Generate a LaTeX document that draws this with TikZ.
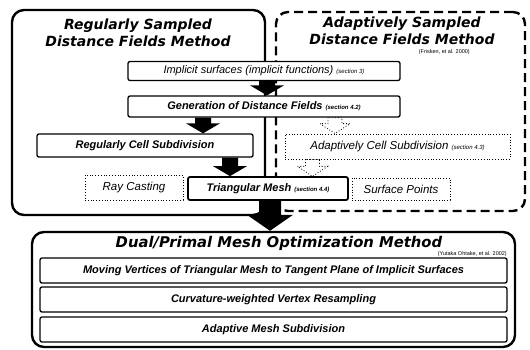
\documentclass[tikz,border=0pt]{standalone}
\usepackage{fontspec}
\setmainfont{Liberation Sans}
\newfontfamily\titlefont{DejaVu Sans}
\usetikzlibrary{calc}
\newcommand\blockarrow[6][]{%
  \path[#1] let \p1=(#2), \p2=(#3) in
   (\x1-#4,\y1) -- (\x1-#4,\y2+#6) -- (\x1-#5,\y2+#6) -- (\x1,\y2) --
   (\x1+#5,\y2+#6) -- (\x1+#4,\y2+#6) -- (\x1+#4,\y1) -- cycle;}
\tikzset{
  bigbox/.style={draw, line width=2.4pt, rounded corners=12pt, inner sep=0pt},
  dashbox/.style={draw, line width=2.4pt, dash pattern=on 9pt off 5pt, rounded corners=12pt, inner sep=0pt},
  stepbox/.style={draw, fill=white, line width=1.3pt, rounded corners=2pt, inner sep=0pt,
     font=\itshape\fontsize{11}{13}\selectfont},
  boldstep/.style={stepbox, font=\bfseries\itshape\fontsize{11}{13}\selectfont},
  dotbox/.style={draw, fill=white, dotted, line width=0.8pt, inner sep=0pt,
     font=\itshape\fontsize{11.5}{13}\selectfont},
  titletext/.style={align=center, inner sep=0pt, font=\titlefont\bfseries\itshape\fontsize{14}{16.5}\selectfont},
  cite/.style={inner sep=0pt, font=\fontsize{5.5}{6}\selectfont},
  blk/.style={fill=black},
  hollow/.style={draw, fill=white, dotted, line width=0.8pt},
}
\newcommand\sect[1]{{\fontsize{6}{7}\selectfont\itshape #1}}
\begin{document}
\begin{tikzpicture}[x=1pt,y=-1pt]
\useasboundingbox[fill=white] (0,0) rectangle (530,349);
% frames
\node[dashbox, minimum width=249pt, minimum height=199pt] (adbox) at (400.5,111.5) {};
\node[bigbox, minimum width=253pt, minimum height=205pt] (regbox) at (138.5,112.5) {};
\node[bigbox, minimum width=483pt, minimum height=115pt] (dpbox) at (273.5,289.5) {};
% titles
\node[titletext] (regtitle) at (138,33) {Regularly Sampled\\Distance Fields Method};
\node[titletext] (adtitle) at (402,31) {Adaptively Sampled\\Distance Fields Method};
\node[cite, anchor=east] (adcite) at (470,52) {(Frisken, et al. 2000)};
\node[titletext, font=\titlefont\bfseries\itshape\fontsize{14.8}{16.5}\selectfont] (dptitle) at (279,243) {Dual/Primal Mesh Optimization Method};
\node[cite, anchor=east] (dpcite) at (507,254) {(Yutaka Ohtake, et al. 2002)};
% arrow anchors
\node[stepbox, minimum width=272pt, minimum height=19pt, draw=none, fill=none] (impg) at (264,71) {};
\node[stepbox, minimum width=272pt, minimum height=21pt, draw=none, fill=none] (geng) at (264,106.5) {};
\node[dotbox, minimum width=225pt, minimum height=25pt, draw=none, fill=none] (acsg) at (397.5,146.5) {};
\node[boldstep, minimum width=160pt, minimum height=23pt, draw=none, fill=none] (trig) at (268,188.5) {};
\coordinate (a4) at ($(geng.south)+(71,0)$);
\coordinate (a5) at ($(acsg.south)+(-85,0)$);
\blockarrow[hollow]{a4}{acsg.north -| a4}{7pt}{15pt}{10pt}
\blockarrow[hollow]{a5}{trig.north -| a5}{7pt}{15pt}{10pt}
% steps
\node[stepbox, minimum width=272pt, minimum height=19pt] (imp) at (264,71)
  {Implicit surfaces (implicit functions) \sect{(section 3)}};
\node[boldstep, minimum width=272pt, minimum height=21pt] (gen) at (264,106.5)
  {Generation of Distance Fields \sect{(section 4.2)}};
\node[boldstep, minimum width=216pt, minimum height=23pt] (rcs) at (145,145.5)
  {Regularly Cell Subdivision};
\node[dotbox, minimum width=225pt, minimum height=25pt] (acs) at (397.5,146.5)
  {Adaptively Cell Subdivision \sect{(section 4.3)}};
\node[dotbox, minimum width=98pt, minimum height=25pt] (ray) at (134,187.5) {Ray Casting};
\node[boldstep, line width=1.8pt, minimum width=160pt, minimum height=23pt] (tri) at (268,188.5)
  {Triangular Mesh \sect{(section 4.4)}};
\node[dotbox, minimum width=98pt, minimum height=22pt] (spts) at (401,189) {Surface Points};
\node[boldstep, minimum width=467pt, minimum height=25pt] (m1) at (273.5,270.5)
  {Moving Vertices of Triangular Mesh to Tangent Plane of Implicit Surfaces};
\node[boldstep, minimum width=467pt, minimum height=25pt] (m2) at (273.5,299.5)
  {Curvature-weighted Vertex Resampling};
\node[boldstep, minimum width=467pt, minimum height=25pt] (m3) at (273.5,329.5)
  {Adaptive Mesh Subdivision};
% black arrows
\coordinate (a1) at ($(imp.south)+(3,0)$);
\coordinate (a2) at ($(gen.south)+(-61,0)$);
\coordinate (a3) at ($(rcs.south)+(85,0)$);
\coordinate (a6) at ($(tri.south)+(2,0)$);
\blockarrow[blk]{a1}{gen.north -| a1}{8pt}{17pt}{10pt}
\blockarrow[blk]{a2}{rcs.north -| a2}{8pt}{17pt}{10pt}
\blockarrow[blk]{a3}{tri.north -| a3}{8pt}{17pt}{10pt}
\blockarrow[blk]{a6}{dpbox.north -| a6}{11pt}{23pt}{16pt}
\end{tikzpicture}
\end{document}
